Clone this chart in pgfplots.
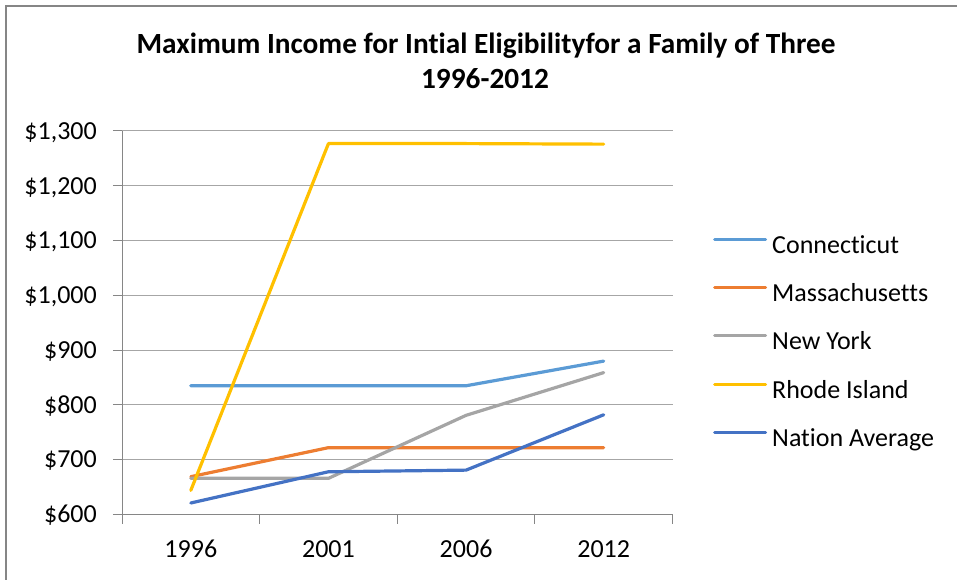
\documentclass[border=0pt]{standalone}
\usepackage{fontspec}
\setmainfont{Carlito}[Ligatures=CommonOff]
\usepackage{pgfplots}
\pgfplotsset{compat=1.18}
\definecolor{ct}{HTML}{5B9BD5}
\definecolor{ma}{HTML}{ED7D31}
\definecolor{ny}{HTML}{A5A5A5}
\definecolor{ri}{HTML}{FFC000}
\definecolor{na}{HTML}{4472C4}
\definecolor{gridc}{HTML}{A6A6A6}
\definecolor{axc}{HTML}{868686}
\begin{document}
\fontsize{26pt}{31pt}\selectfont
\begin{tikzpicture}
\useasboundingbox (0,0) rectangle (957pt,580pt);
\draw[axc, line width=1.3pt] (6pt,0pt) -- (6pt,574pt) -- (957pt,574pt);
\node[font=\fontsize{29.3pt}{35pt}\selectfont\bfseries, anchor=base, inner sep=0pt] at (486pt,526.7pt) {Maximum Income for Intial Eligibilityfor a Family of Three};
\node[font=\fontsize{29.3pt}{35pt}\selectfont\bfseries, anchor=base, inner sep=0pt] at (485pt,491.7pt) {1996-2012};
\begin{axis}[
  at={(122pt,65.5pt)}, anchor=south west,
  width=550.5pt, height=383.5pt, scale only axis,
  xmin=-0.5, xmax=3.5, ymin=600, ymax=1300,
  ytick={600,700,...,1300},
  yticklabels={\$600,\$700,\$800,\$900,{\$1,000},{\$1,100},{\$1,200},{\$1,300}},
  xtick={-0.5,0.5,1.5,2.5,3.5}, xticklabels={},
  extra x ticks={0,1,2,3},
  extra x tick labels={1996,2001,2006,2012},
  extra x tick style={grid=none, tick style={draw=none}},
  axis x line=bottom, axis y line=left,
  axis line style={-, axc, line width=1pt},
  tick align=outside, major tick length=9pt,
  tick style={axc, line width=1pt},
  ymajorgrids, grid style={gridc, line width=1pt},
  yticklabel style={inner sep=0pt, text height=16.5pt, text depth=0pt, anchor=east, xshift=-16pt},
  xticklabel style={inner sep=0pt, text height=16.5pt, text depth=0pt, anchor=north, yshift=-17.5pt},
  legend style={at={(axis description cs:1.0736,0.4446)}, anchor=west, draw=none, fill=none,
    inner sep=0pt, row sep=24.25pt, column sep=5pt,
    nodes={inner sep=0pt, text height=18pt, text depth=6pt}},
  legend cell align=left,
  legend image code/.code={\draw[#1, line width=3pt, line cap=round] (1.5pt,8pt) -- (52.5pt,8pt);},
  every axis plot/.append style={line width=3.2pt, line cap=round, line join=round},
]
\addplot[ct] coordinates {(0,835) (1,835) (2,835) (3,880)};
\addlegendentry{Connecticut}
\addplot[ma] coordinates {(0,669) (1,722) (2,722) (3,722)};
\addlegendentry{Massachusetts}
\addplot[ny] coordinates {(0,666) (1,666) (2,781) (3,859)};
\addlegendentry{New York}
\addplot[ri] coordinates {(0,644) (1,1277) (2,1277) (3,1276)};
\addlegendentry{Rhode Island}
\addplot[na] coordinates {(0,621) (1,678) (2,681) (3,782)};
\addlegendentry{Nation Average}
\end{axis}
\end{tikzpicture}
\end{document}
